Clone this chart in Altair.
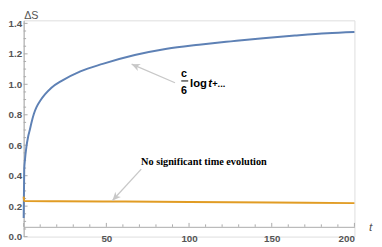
import math
import altair as alt
import pandas as pd

# ---- data ----
blue_t = [0, 0.35, 0.75, 1.7, 2.7, 3.7, 4.6, 6.2, 7.7, 10, 13, 16.8, 22.7, 34.3,
          47.8, 67.2, 86.6, 106, 125.3, 144.8, 164, 183.5, 200]
blue_s = [0.122, 0.443, 0.500, 0.592, 0.656, 0.700, 0.743, 0.807, 0.849, 0.892, 0.935,
          0.978, 1.021, 1.085, 1.134, 1.192, 1.234, 1.260, 1.282, 1.303, 1.320, 1.335, 1.343]

orange_t = [0, 0.3, 1, 50, 100, 150, 200]
orange_s = [0.263, 0.236, 0.233, 0.231, 0.227, 0.224, 0.220]

y_labels = [0.0, 0.2, 0.4, 0.6, 0.8, 1.0, 1.2, 1.4]
x_labels = [50, 100, 150, 200]
y_minor = [round(0.05 * i, 2) for i in range(0, 29) if i % 4 != 0]
x_minor = [10 * i for i in range(1, 21) if i % 5 != 0]
x_major = [0, 50, 100, 150, 200]

# ---- layout ----
W, H = 338, 221
XMAX, YMAX = 200, 1.42
AXIS_OFFSET = -10
GRAY = "#aaaaaa"
LABEL = "#555555"
BLUE = "#5E81B5"
ORANGE = "#E19C24"
ARROW = "#c8c8c8"

xs = alt.Scale(domain=[0, XMAX], nice=False, zero=False)
ys = alt.Scale(domain=[0, YMAX], nice=False, zero=False)

xaxis = alt.Axis(values=x_labels, format="d", offset=AXIS_OFFSET, ticks=False, grid=False,
                 domainColor=GRAY, domainWidth=1, labelColor=LABEL, labelFont="Liberation Sans",
                 labelFontWeight="bold", labelFontSize=10, labelPadding=7,
                 title="t", titleFont="Liberation Sans", titleFontStyle="italic",
                 titleFontWeight="normal", titleFontSize=12, titleColor=LABEL,
                 titleAngle=0, titleX=W + 16, titleY=0, titleBaseline="middle", titleAlign="center")
yaxis = alt.Axis(values=y_labels, format=".1f", ticks=False, grid=False,
                 domainColor=GRAY, domainWidth=1, labelColor=LABEL, labelFont="Liberation Sans",
                 labelFontWeight="bold", labelFontSize=10, labelPadding=2,
                 title="ΔS", titleFont="Liberation Sans", titleFontWeight="normal",
                 titleFontSize=11, titleColor=LABEL, titleAngle=0, titleX=0, titleY=-5,
                 titleBaseline="middle", titleAlign="left")


def X(f="t"):
    return alt.X(f"{f}:Q", scale=xs, axis=xaxis)


def Y(f="v"):
    return alt.Y(f"{f}:Q", scale=ys, axis=yaxis)


blue_df = pd.DataFrame({"t": blue_t, "v": blue_s})
orange_df = pd.DataFrame({"t": orange_t, "v": orange_s})

blue = alt.Chart(blue_df).mark_line(color=BLUE, strokeWidth=2, interpolate="monotone").encode(x=X(), y=Y())
orange = alt.Chart(orange_df).mark_line(color=ORANGE, strokeWidth=2, interpolate="monotone").encode(x=X(), y=Y())

# axis ticks (inward)
ymaj = alt.Chart(pd.DataFrame({"v": y_labels})).mark_rule(color=GRAY, strokeWidth=1).encode(
    x=alt.value(0), x2=alt.value(4), y=Y())
ymin = alt.Chart(pd.DataFrame({"v": y_minor})).mark_rule(color=GRAY, strokeWidth=1).encode(
    x=alt.value(0), x2=alt.value(2.5), y=Y())
axis_px = H + AXIS_OFFSET
xmaj = alt.Chart(pd.DataFrame({"t": x_major})).mark_rule(color=GRAY, strokeWidth=1).encode(
    x=X(), y=alt.value(axis_px), y2=alt.value(axis_px - 4))
xmin = alt.Chart(pd.DataFrame({"t": x_minor})).mark_rule(color=GRAY, strokeWidth=1).encode(
    x=X(), y=alt.value(axis_px), y2=alt.value(axis_px - 2.5))

# ---- annotations (anchors in data coordinates) ----
arrows = pd.DataFrame({
    "t": [71.1, 91.5], "v": [0.443, 1.010],      # tails
    "t2": [53.7, 65.3], "v2": [0.237, 1.132],    # heads
})
pxu, pyu = W / XMAX, H / YMAX
arrows["ang"] = [
    (math.degrees(math.atan2((h - tl) * pxu, (vh - vt) * pyu)) + 360) % 360
    for tl, vt, h, vh in zip(arrows.t, arrows.v, arrows.t2, arrows.v2)
]
arrow_lines = alt.Chart(arrows).mark_rule(color=ARROW, strokeWidth=1.3).encode(
    x=X(), y=Y(), x2="t2:Q", y2="v2:Q")
heads = alt.Chart(arrows).mark_point(
    shape="M0,0L-0.45,1L0,0.72L0.45,1Z", filled=True, opacity=1, color=ARROW, size=290
).encode(x=X("t2"), y=Y("v2"), angle=alt.Angle("ang:Q", scale=None))

note1 = alt.Chart(pd.DataFrame({"t": [109], "v": [0.488], "txt": ["No significant time evolution"]})).mark_text(
    font="Liberation Serif", fontWeight="bold", fontSize=10.5, color="black", align="center", baseline="middle"
).encode(x=X(), y=Y(), text="txt:N")

frac = alt.Chart(pd.DataFrame({"t": [96.9, 97.0], "v": [1.065, 0.956], "txt": ["c", "6"]})).mark_text(
    font="Liberation Sans", fontWeight="bold", fontSize=11, color="black", align="center", baseline="middle"
).encode(x=X(), y=Y(), text="txt:N")
bar = alt.Chart(pd.DataFrame({"t": [95.3], "t2": [99.5], "v": [1.022]})).mark_rule(
    color="black", strokeWidth=1).encode(x=X(), x2="t2:Q", y=Y())
log_txt = alt.Chart(pd.DataFrame({"t": [100.6], "v": [0.985], "txt": ["log"]})).mark_text(
    font="Liberation Sans", fontWeight="bold", fontSize=11.5, color="black", align="left", baseline="alphabetic"
).encode(x=X(), y=Y(), text="txt:N")
t_txt = alt.Chart(pd.DataFrame({"t": [111.6], "v": [0.985], "txt": ["t"]})).mark_text(
    font="Liberation Sans", fontWeight="bold", fontStyle="italic", fontSize=11.5, color="black",
    align="left", baseline="alphabetic"
).encode(x=X(), y=Y(), text="txt:N")
plus_txt = alt.Chart(pd.DataFrame({"t": [114.0], "v": [0.985], "txt": ["+..."]})).mark_text(
    font="Liberation Sans", fontWeight="bold", fontSize=9.5, color="black", align="left", baseline="alphabetic"
).encode(x=X(), y=Y(), text="txt:N")

chart = alt.layer(
    ymaj, ymin, xmaj, xmin, blue, orange, arrow_lines, heads, note1, frac, bar, log_txt, t_txt, plus_txt
).properties(
    width=W, height=H,
    autosize=alt.AutoSizeParams(type="none"),
    padding={"left": 16, "top": 10, "right": 20, "bottom": 8},
).configure_view(stroke=None).configure(background="white")

chart.save("out.html", embed_options={"renderer": "svg", "actions": False})
